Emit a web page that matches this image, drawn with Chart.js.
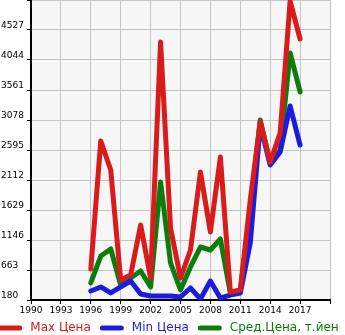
<!DOCTYPE html>
<html>
<head>
<meta charset="utf-8">
<script src="https://cdn.jsdelivr.net/npm/chart.js@4/dist/chart.umd.min.js"></script>
<style>
  html, body { margin: 0; padding: 0; background: #ffffff; }
  #wrap { width: 345px; height: 335px; position: relative; }
</style>
</head>
<body>
<div id="wrap"><canvas id="c" width="345" height="335"></canvas></div>
<script>
// Price history by model year
const years = [1996, 1997, 1998, 1999, 2000, 2001, 2002, 2003, 2004, 2005, 2006,
               2007, 2008, 2009, 2010, 2011, 2012, 2013, 2014, 2015, 2016, 2017];
const maxPrice = [680, 2740, 2273, 502, 582, 1388, 534, 4334, 1340, 534, 985,
                  2241, 1275, 2482, 309, 340, 1790, 3050, 2400, 2870, 4990, 4382];
const minPrice = [325, 390, 293, 390, 486, 277, 245, 245, 245, 228, 373,
                  196, 486, 212, 260, 293, 1098, 2998, 2354, 2563, 3303, 2675];
const avgPrice = [454, 888, 1001, 421, 534, 647, 390, 2080, 776, 341, 712,
                  1033, 985, 1162, 293, 325, 1629, 3078, 2386, 2595, 4157, 3529];
const seriesNames = ['Max Цена', 'Min Цена', 'Сред.Цена, т.йен'];
const seriesColors = ['#d81b1b', '#1c1ce0', '#0b7d0b'];

const yMin = 180, yStep = 483, yMax = 5010;
const xMin = 1990, xStep = 3, xMax = 2020;

const toPoints = (vals) => vals.map((v, i) => ({ x: years[i], y: v }));

// light grey plot background
const plotBg = {
  id: 'plotBg',
  beforeDraw(chart) {
    const { ctx, chartArea: a } = chart;
    ctx.save();
    ctx.fillStyle = '#f6f6f6';
    ctx.fillRect(a.left, a.top, a.right - a.left, a.bottom - a.top);
    ctx.restore();
  }
};

// single-row legend under the axis: rounded line swatch + coloured label,
// slightly wider than the canvas so the outer swatch is trimmed at the edge
const lineLegend = {
  id: 'lineLegend',
  afterDraw(chart) {
    const { ctx } = chart;
    const swatch = 24, gapText = 8, gapItem = 9;
    ctx.save();
    ctx.font = '12px "DejaVu Sans"';
    const items = chart.data.datasets.map((d) => ({
      text: d.label, color: d.borderColor, w: ctx.measureText(d.label).width
    }));
    let x = -1.7;
    const y = chart.height - 7;
    ctx.textBaseline = 'middle';
    ctx.textAlign = 'left';
    items.forEach((it) => {
      ctx.strokeStyle = it.color;
      ctx.lineWidth = 5;
      ctx.lineCap = 'round';
      ctx.beginPath();
      ctx.moveTo(x + 2.5, y);
      ctx.lineTo(x + swatch - 2.5, y);
      ctx.stroke();
      ctx.fillStyle = it.color;
      ctx.fillText(it.text, x + swatch + gapText, y);
      x += swatch + gapText + it.w + gapItem;
    });
    ctx.restore();
  }
};

new Chart(document.getElementById('c'), {
  type: 'line',
  data: {
    datasets: [maxPrice, minPrice, avgPrice].map((vals, k) => ({
      label: seriesNames[k],
      data: toPoints(vals),
      borderColor: seriesColors[k],
      backgroundColor: seriesColors[k],
      borderWidth: 5,
      pointRadius: 0,
      borderJoinStyle: 'round',
      borderCapStyle: 'round',
      tension: 0
    }))
  },
  plugins: [plotBg, lineLegend],
  options: {
    responsive: false,
    animation: false,
    layout: { padding: { top: 0, left: 1, right: 0, bottom: 20 } },
    scales: {
      x: {
        type: 'linear',
        min: xMin, max: xMax,
        ticks: {
          stepSize: xStep,
          color: '#000',
          font: { family: 'DejaVu Sans', size: 9 },
          padding: 1,
          maxRotation: 0,
          callback: (v) => (v === xMax ? '' : String(v))
        },
        grid: { color: '#c4c4c4', lineWidth: 1, tickColor: '#000', tickLength: 4 },
        border: { color: '#000', width: 2 },
        afterFit: (s) => { s.height = 15; s.paddingLeft = 0; s.paddingRight = 15; }
      },
      y: {
        min: yMin, max: yMax,
        ticks: {
          stepSize: yStep,
          color: '#000',
          font: { family: 'DejaVu Sans', size: 9 },
          crossAlign: 'far',
          labelOffset: -4,
          padding: 1,
          callback: (v) => (v === yMax ? '' : String(v))
        },
        grid: { color: '#c4c4c4', lineWidth: 1, tickColor: '#000', tickLength: 4 },
        border: { color: '#000', width: 2 },
        afterFit: (s) => { s.width = 30; s.paddingTop = 0; s.paddingBottom = 0; }
      }
    },
    plugins: {
      legend: { display: false },
      tooltip: { enabled: false }
    }
  }
});
</script>
</body>
</html>
